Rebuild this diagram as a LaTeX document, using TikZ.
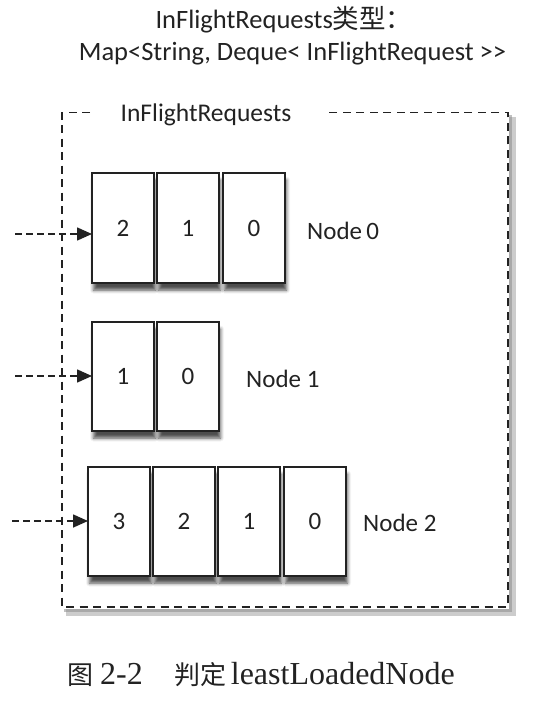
\documentclass[tikz,border=0pt]{standalone}
\usepackage{fontspec}
\setmainfont{Carlito}
\newfontfamily\cjk{Noto Sans CJK SC}
\newfontfamily\capfont{Liberation Serif}
\usetikzlibrary{arrows.meta,shadows.blur}
\definecolor{ink}{HTML}{222222}
\tikzset{
  cell/.style={draw=ink, line width=1.8pt, fill=white, minimum width=62pt, minimum height=109pt,
    inner sep=0pt, outer sep=0pt, font=\fontsize{25}{29}\selectfont, text=ink,
    blur shadow={shadow xshift=1.5pt, shadow yshift=-7pt, shadow blur radius=3.5pt, shadow opacity=70}},
  lab/.style={font=\fontsize{25}{29}\selectfont, text=ink, inner sep=0pt, anchor=base west},
  feed/.style={draw=ink, line width=1.6pt, dash pattern=on 7pt off 4pt, -{Triangle[length=15pt,width=13pt]}},
  frame/.style={draw=ink, line width=1.5pt, dash pattern=on 8pt off 5.5pt},
}
\begin{document}
\begin{tikzpicture}[x=1pt,y=-1pt]
\useasboundingbox (0,0) rectangle (544,706);
% title
\node[font=\fontsize{26.5}{30}\selectfont, text=ink, inner sep=0pt, anchor=base] (t1) at (284,29) {InFlightRequests{\cjk 类型：}};
\node[font=\fontsize{26.5}{30}\selectfont, text=ink, inner sep=0pt, anchor=base] (t2) at (292.5,61) {Map<String, Deque< InFlightRequest >{}>};
% container shadow
\draw[black!50, line width=7pt, opacity=0.4] (66,612) -- (512,612) -- (512,117);
\draw[black!45, line width=3pt, opacity=0.55] (64,610) -- (510,610) -- (510,115);
% container
\node[font=\fontsize{25.5}{29}\selectfont, text=ink, inner sep=0pt, anchor=base] (ct) at (206,121.5) {InFlightRequests};
\coordinate (c1) at (90,112.7);
\coordinate (c2) at (62,112.7);
\coordinate (c3) at (62,607);
\coordinate (c4) at (508,607);
\coordinate (c5) at (508,112.7);
\coordinate (c6) at (328,112.7);
\draw[frame] (c1) -- (c2) -- (c3) -- (c4) -- (c5) -- (c6);
% node 0
\node[cell, minimum height=110pt] (a0) at (123,228) {2};
\node[cell, minimum height=110pt] (a1) at (188,228) {1};
\node[cell, minimum height=110pt] (a2) at (254,228) {0};
\node[lab] (la) at (307,239) {Node\,0};
% node 1
\node[cell] (b0) at (123,376.5) {1};
\node[cell] (b1) at (188,376.5) {0};
\node[lab] (lb) at (246,387) {Node 1};
% node 2
\node[cell] (d0) at (119,521.5) {3};
\node[cell] (d1) at (184,521.5) {2};
\node[cell] (d2) at (249,521.5) {1};
\node[cell] (d3) at (315,521.5) {0};
\node[lab] (ld) at (363,531.5) {Node 2};
% feeds
\coordinate (sa) at (15,234);
\coordinate (sb) at (15,376);
\coordinate (sd) at (12,521);
\draw[feed] (sa) -- (a0.west |- sa);
\draw[feed] (sb) -- (b0.west |- sb);
\draw[feed] (sd) -- (d0.west |- sd);
% caption
\node[anchor=base west, font=\fontsize{32}{36}\selectfont\capfont, text=ink, inner sep=0pt] (cap) at (67,684)
  {{\cjk\fontsize{26}{30}\selectfont 图}\hspace{7pt}2-2\hspace{32pt}{\cjk\fontsize{26}{30}\selectfont 判定}\hspace{4pt}leastLoadedNode};
\end{tikzpicture}
\end{document}
